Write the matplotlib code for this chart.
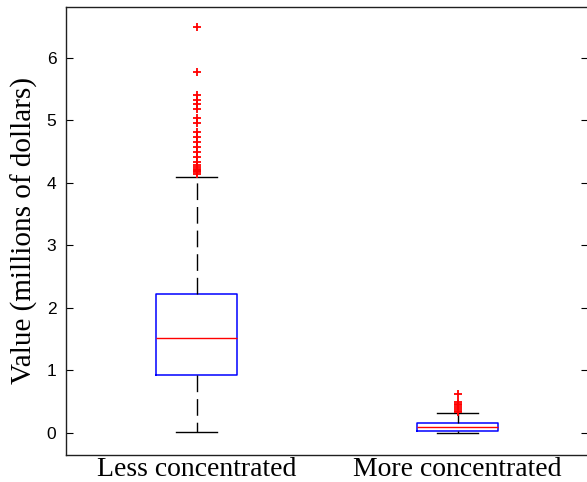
import matplotlib.pyplot as plt

# box statistics (millions of dollars)
categories = ["Less concentrated", "More concentrated"]
medians = [1.515, 0.096]
q1s = [0.93, 0.037]
q3s = [2.23, 0.154]
whis_lo = [0.01, 0.0]
whis_hi = [4.10, 0.315]
fliers_less = [6.50, 5.78, 5.41, 5.33, 5.26, 5.19, 5.035, 4.955, 4.82, 4.74,
               4.66, 4.58, 4.50, 4.42, 4.34, 4.28, 4.25, 4.23, 4.21, 4.19,
               4.17, 4.15]
fliers_more = [0.624, 0.50, 0.47, 0.44, 0.41, 0.38, 0.35, 0.33]
fliers = [fliers_less, fliers_more]
yticks = [0, 1, 2, 3, 4, 5, 6]

plt.rcParams["lines.scale_dashes"] = False

stats = []
for i, name in enumerate(categories):
    stats.append({
        "label": name,
        "med": medians[i],
        "q1": q1s[i],
        "q3": q3s[i],
        "whislo": whis_lo[i],
        "whishi": whis_hi[i],
        "fliers": fliers[i],
    })

fig = plt.figure(figsize=(5.87, 4.82), dpi=100)
W, H = 587, 482
ax = fig.add_axes([66 / W, 1 - 455 / H, (588 - 66) / W, (455 - 6.7) / H])

lw = 1.0
ax.bxp(
    stats,
    positions=[1, 2],
    widths=0.31,
    showfliers=True,
    boxprops=dict(color="#0000ff", linewidth=1.1),
    medianprops=dict(color="#ff0000", linewidth=lw),
    whiskerprops=dict(color="black", linewidth=lw, linestyle=(0, (12, 5))),
    capprops=dict(color="black", linewidth=lw),
    flierprops=dict(marker="+", markeredgecolor="#ff0000", markersize=6,
                    markeredgewidth=1.3, linestyle="none"),
    capwidths=0.155,
)

ax.set_xlim(0.5, 2.5)
ax.set_ylim(-0.352, 6.82)
ax.set_yticks(yticks)
ax.set_yticklabels([str(v) for v in yticks], family="Liberation Sans",
                   fontsize=12.5)
ax.set_xticks([1, 2])
ax.set_xticklabels(categories, family="Liberation Serif", fontsize=20)
ax.tick_params(axis="y", direction="in", length=5, width=0.8, right=True,
               pad=7)
ax.tick_params(axis="x", length=0, pad=1.5)
ax.set_ylabel("Value (millions of dollars)", family="Liberation Serif",
              fontsize=21)
ax.yaxis.set_label_coords(-0.054, 0.5)
for sp in ax.spines.values():
    sp.set_linewidth(1.0)
    sp.set_color("#202020")

fig.savefig("out.png", dpi=100)
plt.close(fig)
